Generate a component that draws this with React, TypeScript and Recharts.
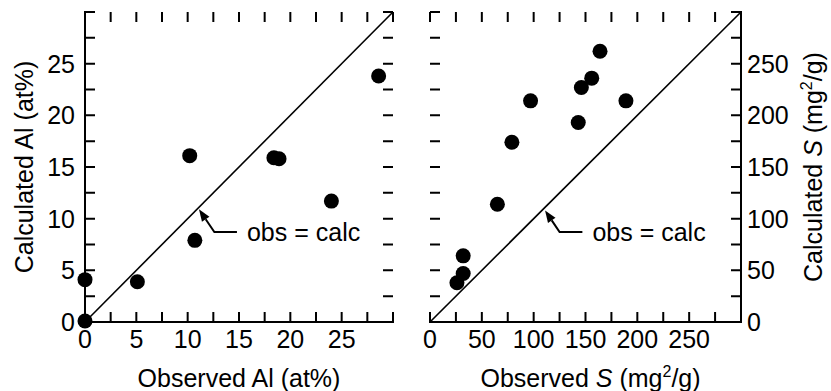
import type { ReactNode } from "react";
import { ScatterChart, Scatter, XAxis, YAxis, Label } from "recharts";

// Left panel: Al content, at%
const AL_OBSERVED = [0, 0, 5.1, 10.2, 10.7, 18.4, 18.9, 24.0, 28.6];
const AL_CALCULATED = [0.1, 4.1, 3.9, 16.1, 7.9, 15.9, 15.8, 11.7, 23.8];
const AL_TICKS = [0, 2.5, 5, 7.5, 10, 12.5, 15, 17.5, 20, 22.5, 25, 27.5, 30];
const AL_LABELS = [0, 5, 10, 15, 20, 25];
const AL_NOTE_X = [11.1, 12.6, 14.8];
const AL_NOTE_Y = [10.9, 8.7, 8.7];

// Right panel: specific surface S, mg2/g
const S_OBSERVED = [26, 32, 32, 65, 79, 97, 143, 146, 156, 164, 189];
const S_CALCULATED = [38, 47, 64, 114, 174, 214, 193, 227, 236, 262, 214];
const S_TICKS = [0, 25, 50, 75, 100, 125, 150, 175, 200, 225, 250, 275, 300];
const S_LABELS = [0, 50, 100, 150, 200, 250];
const S_NOTE_X = [111, 125, 147];
const S_NOTE_Y = [108, 87, 87];

const NOTE_TEXT = "obs = calc";

const FONT = '"Liberation Sans", Arial, Helvetica, sans-serif';
const FONT_SIZE = 25;
const TICK_LEN = 10;
const AXIS_LINE = { stroke: "#000", strokeWidth: 2, strokeLinecap: "square" as const };

const H = 391;
const W_LEFT = 415;
const W_RIGHT = 416;

// plot box of each panel, in the panel's own pixels
type Box = { x: number; y: number; w: number; h: number };
const LEFT_BOX: Box = { x: 85, y: 12, w: 308, h: 310 };
const RIGHT_BOX: Box = { x: 15, y: 12, w: 311, h: 310 };

type Pt = { x: number; y: number };
type Side = "bottom" | "left" | "right";

const zip = (xs: number[], ys: number[]): Pt[] => xs.map((x, i) => ({ x, y: ys[i] }));

const alPoints = zip(AL_OBSERVED, AL_CALCULATED);
const sPoints = zip(S_OBSERVED, S_CALCULATED);
const alNote = zip(AL_NOTE_X, AL_NOTE_Y);
const sNote = zip(S_NOTE_X, S_NOTE_Y);

const first = (a: number[]) => a[0];
const last = (a: number[]) => a[a.length - 1];
const diag = (ticks: number[]) => zip([first(ticks), last(ticks)], [first(ticks), last(ticks)]);

function edgePoints(side: Side, values: number[], ticks: number[]): Pt[] {
  const lo = first(ticks);
  const hi = last(ticks);
  if (side === "bottom") return values.map((t) => ({ x: t, y: lo }));
  if (side === "left") return values.map((t) => ({ x: lo, y: t }));
  return values.map((t) => ({ x: hi, y: t }));
}

// tick number outside the box
function labelShape(side: Side, valueKey: "x" | "y") {
  return function TickLabel(p: any) {
    const { cx, cy } = p;
    const v = p.payload?.[valueKey] ?? p[valueKey];
    if (side === "bottom") {
      return (
        <text x={cx} y={cy + 26} textAnchor="middle" fontSize={FONT_SIZE} fill="#000">
          {v}
        </text>
      );
    }
    if (side === "left") {
      return (
        <text x={cx - 10} y={cy} dy="0.36em" textAnchor="end" fontSize={FONT_SIZE} fill="#000">
          {v}
        </text>
      );
    }
    return (
      <text x={cx + 6} y={cy} dy="0.36em" textAnchor="start" fontSize={FONT_SIZE} fill="#000">
        {v}
      </text>
    );
  };
}

const Dot = (p: any) => <circle cx={p.cx} cy={p.cy} r={7.5} fill="#000" />;
const NoShape = () => <g />;

// leader line with arrowhead at the first point, text after the last one
function renderLeader(p: any) {
  const pts: { x: number; y: number }[] = p.points ?? [];
  if (pts.length < 2) return <g />;
  const [tip, next] = pts;
  const end = pts[pts.length - 1];
  const ang = Math.atan2(tip.y - next.y, tip.x - next.x);
  const len = 12;
  const half = 4.5;
  const bx = tip.x - len * Math.cos(ang);
  const by = tip.y - len * Math.sin(ang);
  const head = [
    `${tip.x},${tip.y}`,
    `${bx + half * Math.sin(ang)},${by - half * Math.cos(ang)}`,
    `${bx - half * Math.sin(ang)},${by + half * Math.cos(ang)}`,
  ].join(" ");
  const d = `M${bx},${by}` + pts.slice(1).map((q) => `L${q.x},${q.y}`).join("");

  return (
    <g>
      <path d={d} fill="none" stroke="#000" strokeWidth={2} />
      <polygon points={head} fill="#000" />
      <text x={end.x + 10} y={end.y} dy="0.36em" fontSize={FONT_SIZE} fill="#000">
        {NOTE_TEXT}
      </text>
    </g>
  );
}

function bottomTitle(content: ReactNode, dx = 0) {
  return function Title(props: any) {
    const vb = props.viewBox ?? { x: 0, y: 0, width: 0, height: 0 };
    return (
      <text x={vb.x + vb.width / 2 + dx} y={vb.y + 65} textAnchor="middle" fontSize={FONT_SIZE} fill="#000">
        {content}
      </text>
    );
  };
}

function sideTitle(content: ReactNode, dx: number) {
  return function Title(props: any) {
    const vb = props.viewBox ?? { x: 0, y: 0, width: 0, height: 0 };
    const cx = vb.x + dx;
    const cy = vb.y + vb.height / 2;
    return (
      <text
        x={cx}
        y={cy}
        dy="0.36em"
        textAnchor="middle"
        fontSize={FONT_SIZE}
        fill="#000"
        transform={`rotate(-90 ${cx} ${cy})`}
      >
        {content}
      </text>
    );
  };
}

const sUnit = (
  <>
    <tspan fontStyle="italic">S</tspan>
    <tspan> (mg</tspan>
    <tspan fontSize={16} dy={-10}>
      2
    </tspan>
    <tspan dy={10}>/g)</tspan>
  </>
);

// axes give the scales and the box; numbers are drawn as series
const axisCommon = {
  type: "number" as const,
  tick: false,
  tickLine: false,
  axisLine: AXIS_LINE,
};

function labelSeries(ticks: number[], labels: number[], sideLabelSide: Side) {
  return [
    <Scatter
      key="lab-bottom"
      data={edgePoints("bottom", labels, ticks)}
      shape={labelShape("bottom", "x")}
      isAnimationActive={false}
    />,
    <Scatter
      key={`lab-${sideLabelSide}`}
      data={edgePoints(sideLabelSide, labels, ticks)}
      shape={labelShape(sideLabelSide, "y")}
      isAnimationActive={false}
    />,
  ];
}

// inward tick marks on all four sides, laid over the chart on the same box
function TickOverlay({ box, ticks, width }: { box: Box; ticks: number[]; width: number }) {
  const lo = first(ticks);
  const hi = last(ticks);
  const f = (t: number) => (t - lo) / (hi - lo);
  const bottom = box.y + box.h;
  const right = box.x + box.w;
  const d = ticks
    .map((t) => {
      const px = box.x + f(t) * box.w;
      const py = bottom - f(t) * box.h;
      return (
        `M${px},${bottom}v${-TICK_LEN}` +
        `M${px},${box.y}v${TICK_LEN}` +
        `M${box.x},${py}h${TICK_LEN}` +
        `M${right},${py}h${-TICK_LEN}`
      );
    })
    .join("");
  return (
    <svg
      width={width}
      height={H}
      style={{ position: "absolute", left: 0, top: 0, pointerEvents: "none" }}
    >
      <path d={d} fill="none" stroke="#000" strokeWidth={2} />
    </svg>
  );
}

export default function App() {
  return (
    <div
      style={{
        position: "absolute",
        left: 0,
        top: 0,
        width: 831,
        height: H,
        background: "#fff",
        fontFamily: FONT,
      }}
    >
      <div style={{ position: "absolute", left: 0, top: 0, width: W_LEFT, height: H }}>
        <ScatterChart
          width={W_LEFT}
          height={H}
          margin={{ top: LEFT_BOX.y, right: W_LEFT - LEFT_BOX.x - LEFT_BOX.w, bottom: 0, left: 0 }}
        >
          <XAxis {...axisCommon} dataKey="x" domain={[0, 30]} height={H - LEFT_BOX.y - LEFT_BOX.h}>
            <Label content={bottomTitle("Observed Al (at%)")} />
          </XAxis>
          <XAxis {...axisCommon} xAxisId="top" orientation="top" dataKey="x" domain={[0, 30]} height={0} />
          <YAxis {...axisCommon} dataKey="y" domain={[0, 30]} width={LEFT_BOX.x}>
            <Label content={sideTitle("Calculated Al (at%)", 24)} />
          </YAxis>
          <YAxis {...axisCommon} yAxisId="right" orientation="right" dataKey="y" domain={[0, 30]} width={0} />
          {labelSeries(AL_TICKS, AL_LABELS, "left")}
          <Scatter
            data={diag(AL_TICKS)}
            xAxisId="top"
            yAxisId="right"
            line={{ stroke: "#000", strokeWidth: 1.6 }}
            shape={NoShape}
            isAnimationActive={false}
          />
          <Scatter data={alNote} line={renderLeader} shape={NoShape} isAnimationActive={false} />
          <Scatter data={alPoints} shape={Dot} isAnimationActive={false} />
        </ScatterChart>
        <TickOverlay box={LEFT_BOX} ticks={AL_TICKS} width={W_LEFT} />
      </div>

      <div style={{ position: "absolute", left: W_LEFT, top: 0, width: W_RIGHT, height: H }}>
        <ScatterChart
          width={W_RIGHT}
          height={H}
          margin={{ top: RIGHT_BOX.y, right: 0, bottom: 0, left: RIGHT_BOX.x }}
        >
          <XAxis {...axisCommon} dataKey="x" domain={[0, 300]} height={H - RIGHT_BOX.y - RIGHT_BOX.h}>
            <Label
              content={bottomTitle(
                <>
                  <tspan>Observed </tspan>
                  {sUnit}
                </>,
                5,
              )}
            />
          </XAxis>
          <XAxis {...axisCommon} xAxisId="top" orientation="top" dataKey="x" domain={[0, 300]} height={0} />
          <YAxis {...axisCommon} dataKey="y" domain={[0, 300]} width={0} />
          <YAxis
            {...axisCommon}
            yAxisId="right"
            orientation="right"
            dataKey="y"
            domain={[0, 300]}
            width={W_RIGHT - RIGHT_BOX.x - RIGHT_BOX.w}
          >
            <Label
              content={sideTitle(
                <>
                  <tspan>Calculated </tspan>
                  {sUnit}
                </>,
                72,
              )}
            />
          </YAxis>
          {labelSeries(S_TICKS, S_LABELS, "right")}
          <Scatter
            data={diag(S_TICKS)}
            xAxisId="top"
            yAxisId="right"
            line={{ stroke: "#000", strokeWidth: 1.6 }}
            shape={NoShape}
            isAnimationActive={false}
          />
          <Scatter data={sNote} line={renderLeader} shape={NoShape} isAnimationActive={false} />
          <Scatter data={sPoints} shape={Dot} isAnimationActive={false} />
        </ScatterChart>
        <TickOverlay box={RIGHT_BOX} ticks={S_TICKS} width={W_RIGHT} />
      </div>
    </div>
  );
}
